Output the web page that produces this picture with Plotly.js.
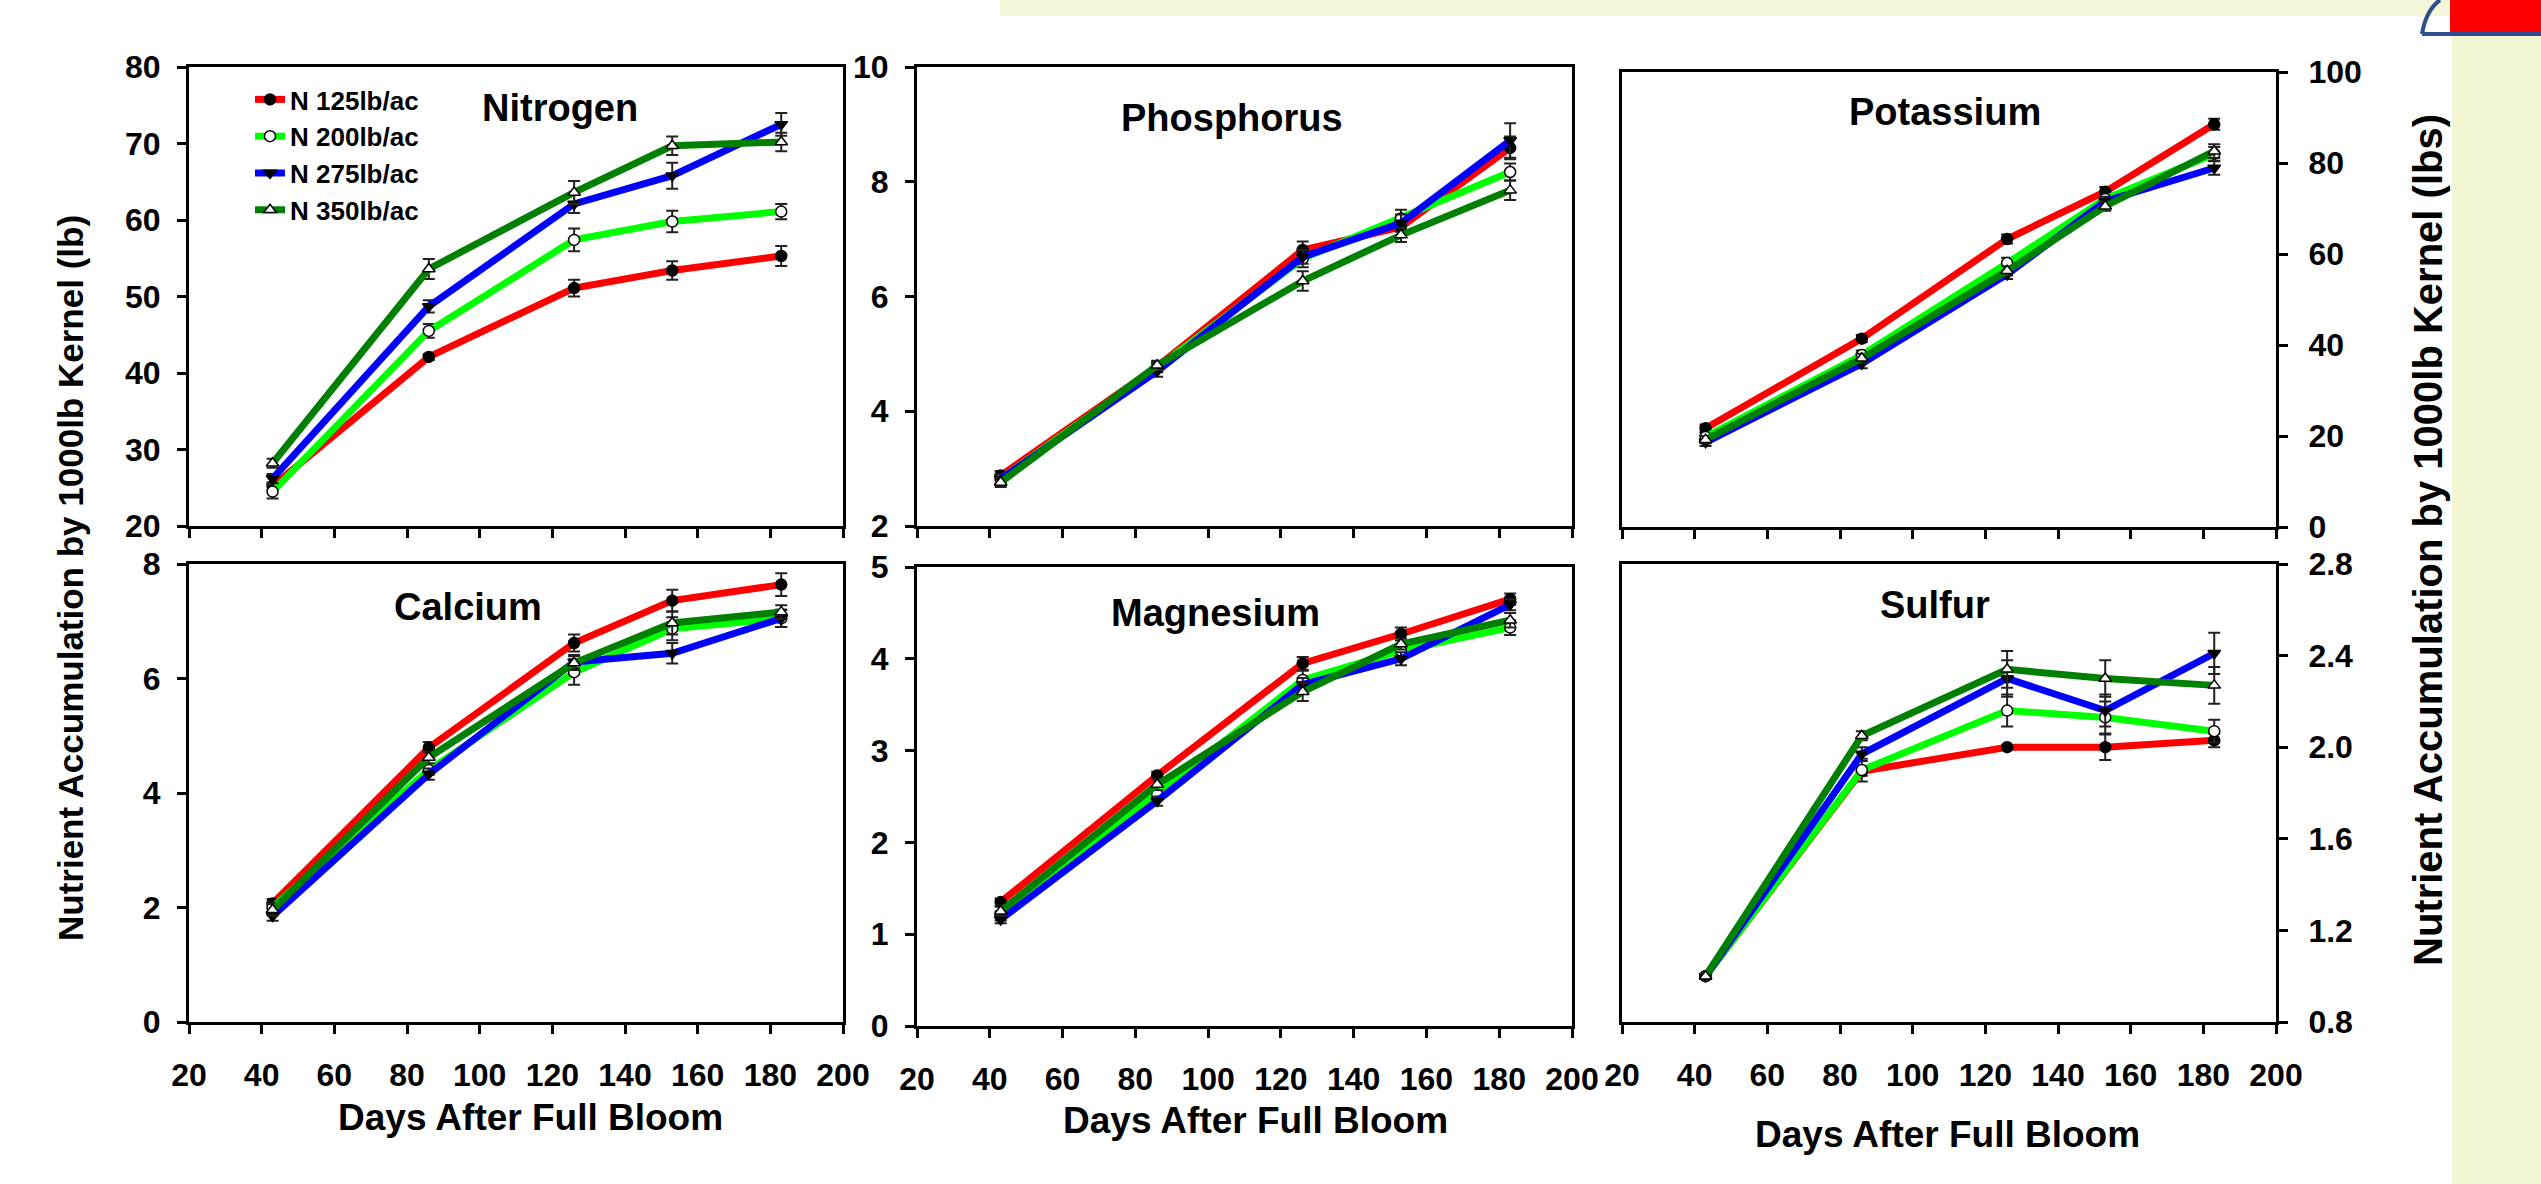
<!DOCTYPE html>
<html><head><meta charset="utf-8">
<script src="https://cdn.plot.ly/plotly-3.0.1.min.js"></script>
<style>html,body{margin:0;padding:0;background:#fff;} #chart{width:2541px;height:1184px;}</style>
</head><body><div id="chart"></div>
<script>
// ---------- data ----------
const days = [43, 86, 126, 153, 183];
const seriesNames = ['N 125lb/ac', 'N 200lb/ac', 'N 275lb/ac', 'N 350lb/ac'];
const xTickVals = [20, 40, 60, 80, 100, 120, 140, 160, 180, 200];

const nitrogenMean = [[25.2, 42.1, 51.1, 53.4, 55.3], [24.5, 45.5, 57.4, 59.8, 61.1], [26.2, 48.7, 62.1, 65.8, 72.5], [28.2, 53.6, 63.6, 69.7, 70.2]];
const nitrogenErr  = [[0.5, 0.4, 1.1, 1.2, 1.3], [0.9, 0.9, 1.5, 1.4, 1.0], [0.6, 0.8, 1.2, 1.7, 1.5], [0.6, 1.3, 1.5, 1.2, 1.2]];
const nitrogenTicks = [20, 30, 40, 50, 60, 70, 80];

const phosphorusMean = [[2.88, 4.78, 6.81, 7.21, 8.59], [2.82, 4.76, 6.66, 7.36, 8.17], [2.82, 4.70, 6.69, 7.28, 8.72], [2.76, 4.80, 6.27, 7.07, 7.85]];
const phosphorusErr  = [[0.08, 0.08, 0.15, 0.15, 0.2], [0.08, 0.08, 0.15, 0.15, 0.15], [0.08, 0.1, 0.12, 0.15, 0.3], [0.08, 0.08, 0.17, 0.12, 0.17]];
const phosphorusTicks = [2, 4, 6, 8, 10];

const potassiumMean = [[21.7, 41.4, 63.3, 73.7, 88.5], [19.8, 37.8, 58.0, 72.1, 82.0], [18.6, 35.9, 55.5, 71.6, 78.9], [19.2, 37.1, 56.3, 70.5, 82.6]];
const potassiumErr  = [[0.8, 0.8, 1.0, 1.0, 1.2], [0.8, 1.0, 1.2, 1.0, 1.5], [0.8, 1.0, 1.0, 1.0, 1.5], [0.8, 1.0, 1.0, 1.0, 1.5]];
const potassiumTicks = [0, 20, 40, 60, 80, 100];

const calciumMean = [[2.07, 4.79, 6.62, 7.36, 7.64], [2.0, 4.4, 6.11, 6.87, 7.05], [1.85, 4.33, 6.29, 6.44, 7.05], [1.96, 4.62, 6.27, 6.97, 7.16]];
const calciumErr  = [[0.08, 0.1, 0.15, 0.19, 0.2], [0.1, 0.08, 0.22, 0.2, 0.15], [0.08, 0.1, 0.12, 0.18, 0.15], [0.1, 0.1, 0.12, 0.2, 0.12]];
const calciumTicks = [0, 2, 4, 6, 8];

const magnesiumMean = [[1.35, 2.73, 3.95, 4.27, 4.65], [1.2, 2.52, 3.77, 4.09, 4.34], [1.16, 2.45, 3.72, 4.0, 4.59], [1.25, 2.63, 3.64, 4.16, 4.42]];
const magnesiumErr  = [[0.04, 0.04, 0.07, 0.07, 0.06], [0.05, 0.06, 0.1, 0.06, 0.08], [0.04, 0.05, 0.07, 0.07, 0.06], [0.05, 0.06, 0.1, 0.06, 0.08]];
const magnesiumTicks = [0, 1, 2, 3, 4, 5];

const sulfurMean = [[1.0, 1.895, 2.0, 2.0, 2.03], [1.0, 1.9, 2.16, 2.13, 2.07], [1.0, 1.97, 2.3, 2.16, 2.41], [1.0, 2.05, 2.34, 2.3, 2.27]];
const sulfurErr  = [[0.01, 0.02, 0.01, 0.056, 0.03], [0.01, 0.05, 0.07, 0.07, 0.05], [0.01, 0.03, 0.08, 0.07, 0.09], [0.01, 0.02, 0.08, 0.08, 0.08]];
const sulfurTicks = [0.8, 1.2, 1.6, 2.0, 2.4, 2.8];

const panelTitles = ['Nitrogen', 'Phosphorus', 'Potassium', 'Calcium', 'Magnesium', 'Sulfur'];
const xTitle = 'Days After Full Bloom';
const leftTitle = 'Nutrient Accumulation by 1000lb Kernel (lb)';
const rightTitle = 'Nutrient Accumulation by 1000lb Kernel (lbs)';

// ---------- style ----------
const W = 2541, H = 1184;
const FONT = 'Liberation Sans, Arial, Helvetica, sans-serif';
const colors = ['#ff0000', '#00ff00', '#0000ff', '#008000'];
const symbols = ['circle', 'circle', 'triangle-down', 'triangle-up'];
const fills = ['black', 'white', 'black', 'white'];

const panels = [
  {mean: nitrogenMean, err: nitrogenErr, ticks: nitrogenTicks, box: [189, 843, 67, 526], side: 'left', fmt: '', bottom: false, tpos: [560, 108]},
  {mean: phosphorusMean, err: phosphorusErr, ticks: phosphorusTicks, box: [917, 1572, 67, 526], side: 'left', fmt: '', bottom: false, tpos: [1232, 118]},
  {mean: potassiumMean, err: potassiumErr, ticks: potassiumTicks, box: [1622, 2276, 72, 527], side: 'right', fmt: '', bottom: false, tpos: [1945, 112]},
  {mean: calciumMean, err: calciumErr, ticks: calciumTicks, box: [189, 843, 564, 1022], side: 'left', fmt: '', bottom: true, tpos: [468, 607], xt: [530, 1117]},
  {mean: magnesiumMean, err: magnesiumErr, ticks: magnesiumTicks, box: [917, 1572, 567, 1026], side: 'left', fmt: '', bottom: true, tpos: [1215, 613], xt: [1255, 1120]},
  {mean: sulfurMean, err: sulfurErr, ticks: sulfurTicks, box: [1622, 2276, 564, 1022], side: 'right', fmt: '.1f', bottom: true, tpos: [1935, 605], xt: [1947, 1134]}
];

const traces = [];
const layout = {
  width: W, height: H,
  margin: {l: 0, r: 0, t: 0, b: 0},
  paper_bgcolor: 'white', plot_bgcolor: 'white',
  font: {family: FONT, size: 32, color: 'black', weight: 'bold'},
  showlegend: true,
  legend: {x: 250 / W, y: 1 - 76 / H, xanchor: 'left', yanchor: 'top', bgcolor: 'rgba(0,0,0,0)',
           font: {family: FONT, size: 26, color: 'black', weight: 'bold'}, tracegroupgap: 0, itemwidth: 30},
  annotations: [],
  shapes: []
};

panels.forEach((p, i) => {
  const n = i + 1;
  const xa = 'xaxis' + (n === 1 ? '' : n), ya = 'yaxis' + (n === 1 ? '' : n);
  const xr = 'x' + (n === 1 ? '' : n), yr = 'y' + (n === 1 ? '' : n);
  const [x0, x1, y0, y1] = p.box;
  layout[xa] = {
    domain: [x0 / W, x1 / W], anchor: yr, range: [20, 200], tickvals: xTickVals,
    ticks: 'outside', ticklen: 9, tickwidth: 3, tickcolor: 'black',
    showline: true, linewidth: 3, linecolor: 'black', mirror: true,
    showgrid: false, zeroline: false, showticklabels: p.bottom, ticklabelstandoff: 14,
    tickfont: {family: FONT, size: 32, color: 'black', weight: 'bold'}, fixedrange: true
  };
  layout[ya] = {
    domain: [1 - y1 / H, 1 - y0 / H], anchor: xr, side: p.side,
    range: [p.ticks[0], p.ticks[p.ticks.length - 1]], tickvals: p.ticks, tickformat: p.fmt,
    ticks: 'outside', ticklen: 9, tickwidth: 3, tickcolor: 'black',
    showline: true, linewidth: 3, linecolor: 'black', mirror: true,
    showgrid: false, zeroline: false, ticklabelstandoff: p.side === 'right' ? 14 : 10,
    tickfont: {family: FONT, size: 32, color: 'black', weight: 'bold'}, fixedrange: true
  };
  for (let s = 0; s < 4; s++) {
    traces.push({
      type: 'scatter', mode: 'lines+markers', x: days, y: p.mean[s],
      xaxis: xr, yaxis: yr, name: seriesNames[s], legendgroup: 'g' + s, showlegend: i === 0,
      line: {color: colors[s], width: 7},
      marker: {symbol: symbols[s], size: 11, color: fills[s], line: {color: 'black', width: 1.5}},
      error_y: {type: 'data', array: p.err[s], visible: true, color: '#222', thickness: 2, width: 6},
      cliponaxis: false
    });
  }
  layout.annotations.push({text: panelTitles[i], xref: 'paper', yref: 'paper', x: p.tpos[0] / W, y: 1 - p.tpos[1] / H,
    xanchor: 'center', yanchor: 'middle', showarrow: false, font: {family: FONT, size: 38, color: 'black', weight: 'bold'}});
  if (p.xt) {
    layout.annotations.push({text: xTitle, xref: 'paper', yref: 'paper', x: p.xt[0] / W, y: 1 - p.xt[1] / H,
      xanchor: 'center', yanchor: 'middle', showarrow: false, font: {family: FONT, size: 37, color: 'black', weight: 'bold'}});
  }
});

layout.annotations.push({text: leftTitle, xref: 'paper', yref: 'paper', x: 70 / W, y: 1 - 578 / H, textangle: -90,
  xanchor: 'center', yanchor: 'middle', showarrow: false, font: {family: FONT, size: 35, color: 'black', weight: 'bold'}});
layout.annotations.push({text: rightTitle, xref: 'paper', yref: 'paper', x: 2428 / W, y: 1 - 540 / H, textangle: -90,
  xanchor: 'center', yanchor: 'middle', showarrow: false, font: {family: FONT, size: 40, color: 'black', weight: 'bold'}});

// background decoration (slide texture + corner logo)
layout.shapes.push({type: 'rect', xref: 'paper', yref: 'paper', x0: 2452 / W, x1: 1, y0: 0, y1: 1, fillcolor: '#f3f6d2', line: {width: 0}, layer: 'below'});
layout.shapes.push({type: 'rect', xref: 'paper', yref: 'paper', x0: 1000 / W, x1: 1, y0: 1 - 16 / H, y1: 1, fillcolor: '#f5f7da', line: {width: 0}, layer: 'below'});
layout.shapes.push({type: 'rect', xref: 'paper', yref: 'paper', x0: 2450 / W, x1: 1, y0: 1 - 32 / H, y1: 1, fillcolor: '#ff0000', line: {width: 0}, layer: 'above'});
layout.shapes.push({type: 'path', xref: 'paper', yref: 'paper',
  path: 'M ' + (2422 / W) + ',' + (1 - 34 / H) + ' Q ' + (2426 / W) + ',' + (1 - 10 / H) + ' ' + (2440 / W) + ',1 M ' + (2422 / W) + ',' + (1 - 34 / H) + ' L 1,' + (1 - 34 / H),
  line: {color: '#2e4f8f', width: 4}, layer: 'above'});

Plotly.newPlot('chart', traces, layout, {displayModeBar: false, staticPlot: true});
</script>
</body></html>
